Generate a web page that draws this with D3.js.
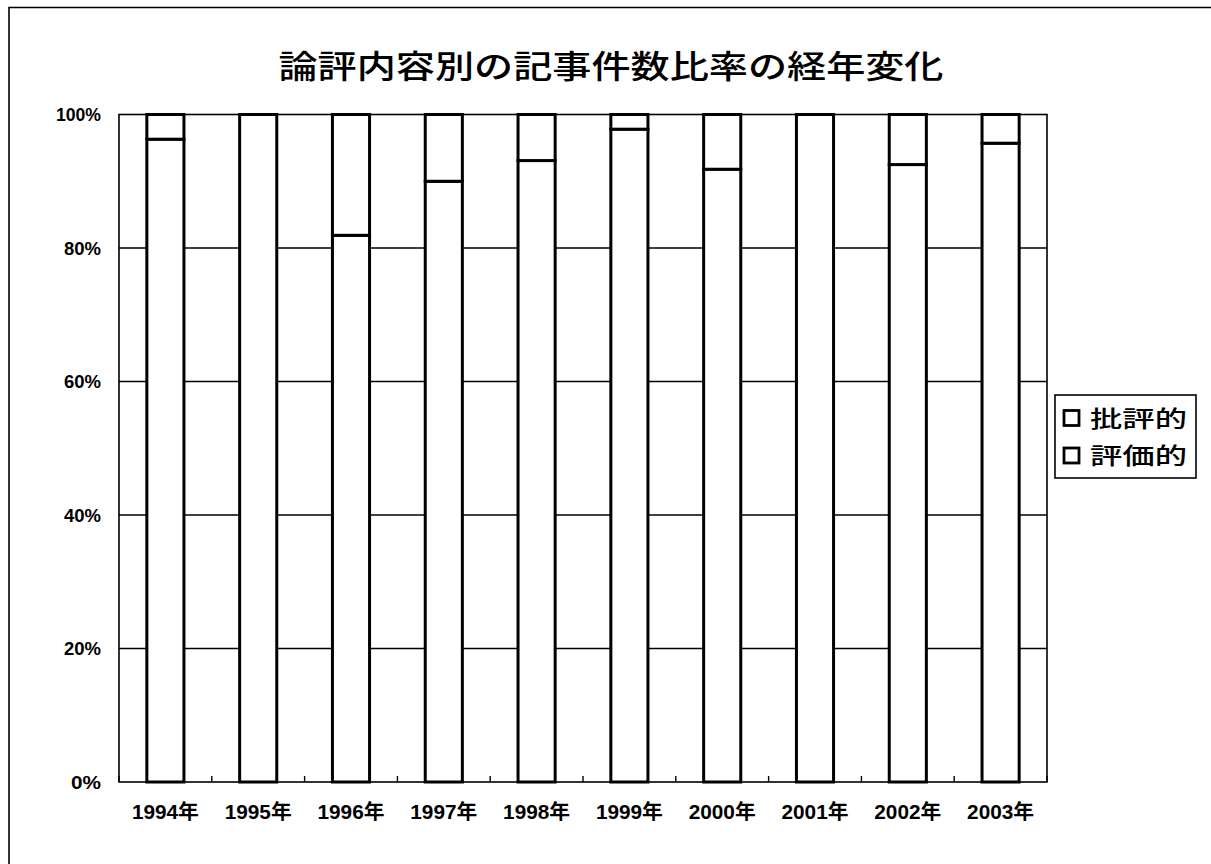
<!DOCTYPE html>
<html><head><meta charset="utf-8">
<script src="https://cdn.jsdelivr.net/npm/d3@7"></script>
<style>body{margin:0;background:#fff}svg{display:block}</style>
</head><body>
<svg id="c" width="1211" height="864"></svg>
<script>
const categories = ["1994年","1995年","1996年","1997年","1998年","1999年","2000年","2001年","2002年","2003年"];
const hyoka = [96.3,100,81.9,90.0,93.1,97.8,91.8,100,92.5,95.7];   // 評価的 (bottom)
const hihyo = [3.7,0,18.1,10.0,6.9,2.2,8.2,0,7.5,4.3];            // 批評的 (top)
const yTicks = [0,20,40,60,80,100];
const seriesNames = ["批評的","評価的"];
const title = "論評内容別の記事件数比率の経年変化";

const svg = d3.select("#c");
const font = "'Liberation Sans','Noto Sans CJK JP',sans-serif";
const cjk = "'Noto Sans CJK JP',sans-serif";

// outer frame
svg.append("path").attr("d","M9,864 V7.5 H1211").attr("fill","none").attr("stroke","#000").attr("stroke-width",1.6);

const L=119, R=1047, T=114.5, B=782;
const x = d3.scaleBand().domain(categories).range([L,R]).paddingInner(0.6).paddingOuter(0.3);
const y = d3.scaleLinear().domain([0,100]).range([B,T]);

// title
svg.append("text").attr("x",611).attr("y",78).attr("text-anchor","middle")
  .attr("font-family",cjk).attr("font-size",32).attr("font-weight",500)
  .attr("textLength",665).attr("lengthAdjust","spacingAndGlyphs")
  .text(title);

// gridlines
svg.append("g").selectAll("line").data(yTicks.filter(d=>d>0&&d<100)).join("line")
  .attr("x1",L).attr("x2",R).attr("y1",d=>y(d)).attr("y2",d=>y(d))
  .attr("stroke","#000").attr("stroke-width",1.6);

// plot border
svg.append("rect").attr("x",L).attr("y",T).attr("width",R-L).attr("height",B-T)
  .attr("fill","none").attr("stroke","#000").attr("stroke-width",1.6);

// y labels
svg.append("g").selectAll("text").data(yTicks).join("text")
  .attr("x",101).attr("y",d=>y(d)).attr("dy","0.36em").attr("text-anchor","end")
  .attr("font-family",font).attr("font-size",18.5).attr("font-weight","bold")
  .attr("textLength",d=>d===100?45:(d===0?30:37)).attr("lengthAdjust","spacingAndGlyphs")
  .text(d=>d+"%");

// x ticks inside at category boundaries
const bounds = d3.range(categories.length+1).map(i=>L+i*(R-L)/categories.length);
svg.append("g").selectAll("line").data(bounds).join("line")
  .attr("x1",d=>d).attr("x2",d=>d).attr("y1",B).attr("y2",B-6)
  .attr("stroke","#000").attr("stroke-width",1.4);

// bars
const stackData = categories.map((c,i)=>({c, v1:hyoka[i], v2:hihyo[i]}));
const g = svg.append("g");
g.selectAll("rect.b").data(stackData).join("rect").attr("class","b")
  .attr("x",d=>x(d.c)).attr("width",x.bandwidth())
  .attr("y",d=>y(d.v1)).attr("height",d=>y(0)-y(d.v1))
  .attr("fill","#fff").attr("stroke","#000").attr("stroke-width",3);
g.selectAll("rect.t").data(stackData).join("rect").attr("class","t")
  .attr("x",d=>x(d.c)).attr("width",x.bandwidth())
  .attr("y",d=>y(d.v1+d.v2)).attr("height",d=>y(d.v1)-y(d.v1+d.v2))
  .attr("fill","#fff").attr("stroke","#000").attr("stroke-width",3);

// x labels
svg.append("g").selectAll("text").data(categories).join("text")
  .attr("x",d=>x(d)+x.bandwidth()/2).attr("y",819).attr("text-anchor","middle")
  .attr("font-family",font).attr("font-size",20).attr("font-weight","bold")
  .attr("textLength",67).attr("lengthAdjust","spacingAndGlyphs")
  .text(d=>d);

// legend
const lg = svg.append("g");
lg.append("rect").attr("x",1055).attr("y",395).attr("width",141).attr("height",83)
  .attr("fill","#fff").attr("stroke","#000").attr("stroke-width",1.6);
const rows = [418.5,456];
lg.selectAll("rect.k").data(seriesNames).join("rect").attr("class","k")
  .attr("x",1064).attr("y",(d,i)=>rows[i]-8).attr("width",15).attr("height",15)
  .attr("fill","#fff").attr("stroke","#000").attr("stroke-width",2.8);
lg.selectAll("text").data(seriesNames).join("text")
  .attr("x",1090).attr("y",(d,i)=>rows[i]).attr("dy","0.36em")
  .attr("font-family",cjk).attr("font-size",23).attr("font-weight",500)
  .attr("textLength",97).attr("lengthAdjust","spacingAndGlyphs")
  .text(d=>d);
</script>
</body></html>
